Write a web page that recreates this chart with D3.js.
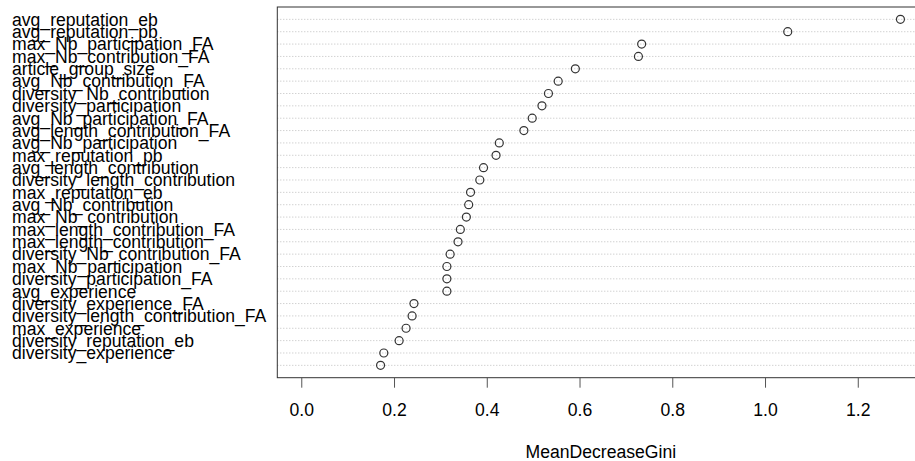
<!DOCTYPE html>
<html>
<head>
<meta charset="utf-8">
<script src="https://cdn.jsdelivr.net/npm/d3@7"></script>
<style>
  html, body { margin: 0; padding: 0; background: #fff; }
  svg { display: block; font-family: "Liberation Sans", Arial, sans-serif; }
</style>
</head>
<body>
<svg id="chart" width="915" height="461"></svg>
<script>
const categories = [
  "avg_reputation_eb", "avg_reputation_pb", "max_Nb_participation_FA", "max_Nb_contribution_FA",
  "article_group_size", "avg_Nb_contribution_FA", "diversity_Nb_contribution", "diversity_participation",
  "avg_Nb_participation_FA", "avg_length_contribution_FA", "avg_Nb_participation", "max_reputation_pb",
  "avg_length_contribution", "diversity_length_contribution", "max_reputation_eb", "avg_Nb_contribution",
  "max_Nb_contribution", "max_length_contribution_FA", "max_length_contribution", "diversity_Nb_contribution_FA",
  "max_Nb_participation", "diversity_participation_FA", "avg_experience", "diversity_experience_FA",
  "diversity_length_contribution_FA", "max_experience", "diversity_reputation_eb", "diversity_experience", ""
];
const values = [
  1.292, 1.049, 0.734, 0.727, 0.591, 0.554, 0.533, 0.519,
  0.498, 0.480, 0.427, 0.420, 0.393, 0.385, 0.365, 0.361,
  0.356, 0.343, 0.338, 0.321, 0.314, 0.314, 0.314, 0.243,
  0.239, 0.226, 0.211, 0.178, 0.171
];
const xTicks = [0.0, 0.2, 0.4, 0.6, 0.8, 1.0, 1.2];
const xTitle = "MeanDecreaseGini";

const svg = d3.select("#chart");
const plot = { left: 277.3, right: 924.4, top: 7, bottom: 377.7 };
const fontSize = 17.6;

const xMax = d3.max(values);
const pad = 0.04 * xMax;
const x = d3.scaleLinear().domain([0 - pad, xMax + pad]).range([plot.left, plot.right]);
const idx = d3.range(values.length);
const y = d3.scalePoint().domain(idx).range([plot.top, plot.bottom]).padding(1);

// dotted grid lines
svg.append("g").selectAll("line").data(idx).join("line")
  .attr("x1", plot.left).attr("x2", plot.right)
  .attr("y1", d => y(d)).attr("y2", d => y(d))
  .attr("stroke", "#bebebe").attr("stroke-width", 1)
  .attr("stroke-dasharray", "1,2");

// points
svg.append("g").selectAll("circle").data(idx).join("circle")
  .attr("cx", d => x(values[d])).attr("cy", d => y(d)).attr("r", 4)
  .attr("fill", "none").attr("stroke", "#333").attr("stroke-width", 1.2);

// box
svg.append("rect")
  .attr("x", plot.left).attr("y", plot.top)
  .attr("width", plot.right - plot.left).attr("height", plot.bottom - plot.top)
  .attr("fill", "none").attr("stroke", "#333").attr("stroke-width", 1);

// labels
svg.append("g").selectAll("text").data(idx).join("text")
  .attr("x", 12).attr("y", d => y(d)).attr("dy", "0.36em")
  .attr("font-size", fontSize).attr("fill", "#000")
  .text(d => categories[d]);

// x axis
const axis = d3.axisBottom(x).tickValues(xTicks).tickFormat(d3.format(".1f"))
  .tickSize(10).tickPadding(16);
const gx = svg.append("g").attr("transform", `translate(0,${plot.bottom})`).call(axis);
gx.select(".domain").remove();
gx.selectAll(".tick line").attr("stroke", "#555");
gx.selectAll(".tick text").attr("font-size", fontSize).attr("fill", "#000")
  .attr("font-family", "Liberation Sans, Arial, sans-serif");

svg.append("text")
  .attr("x", (plot.left + plot.right) / 2).attr("y", 458)
  .attr("text-anchor", "middle").attr("font-size", fontSize).attr("fill", "#000")
  .text(xTitle);
</script>
</body>
</html>
